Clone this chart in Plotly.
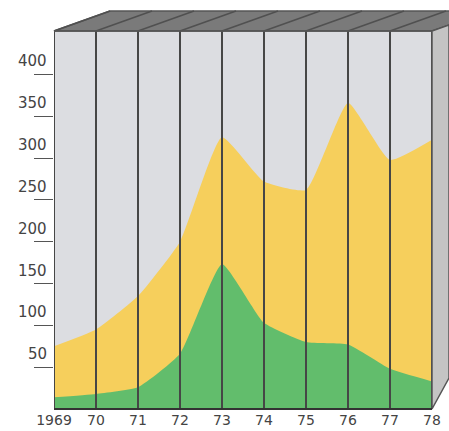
import plotly.graph_objects as go

# Series values per year
years = [1969, 1970, 1971, 1972, 1973, 1974, 1975, 1976, 1977, 1978]
year_labels = ["1969", "70", "71", "72", "73", "74", "75", "76", "77", "78"]
total = [75, 95, 135, 200, 325, 272, 262, 366, 298, 322]
green = [14, 18, 26, 66, 173, 103, 80, 77, 48, 33]
y_ticks = [50, 100, 150, 200, 250, 300, 350, 400]

W, H = 449, 431
ML, MR, MT, MB = 54, 17, 31, 22
Y_MAX = 452
PW, PH = W - ML - MR, H - MT - MB

BG = "#dcdde1"
YELLOW = "#f6cf5c"
GREEN = "#62bd6c"
LINE = "#464646"
FONT = dict(family="DejaVu Sans", size=15, color="#444444")
XFONT = dict(family="DejaVu Sans", size=14, color="#444444")


def px(x):
    return (x - ML) / PW


def py(y):
    return (H - MB - y) / PH


fig = go.Figure()

fig.add_trace(go.Scatter(
    x=years, y=total, mode="lines", line=dict(width=0, shape="spline", smoothing=0.45),
    fill="tozeroy", fillcolor=YELLOW, hoverinfo="skip", showlegend=False))
fig.add_trace(go.Scatter(
    x=years, y=green, mode="lines", line=dict(width=0, shape="spline", smoothing=0.45),
    fill="tozeroy", fillcolor=GREEN, hoverinfo="skip", showlegend=False))

# vertical separators at each year, drawn over the areas
vx, vy = [], []
for yr in years:
    vx += [yr, yr, None]
    vy += [0, Y_MAX, None]
fig.add_trace(go.Scatter(x=vx, y=vy, mode="lines", line=dict(color=LINE, width=2),
                         cliponaxis=False, hoverinfo="skip", showlegend=False))

shapes = []
# top slab of the box
dx, dy = 56, 20
top = H - MB - PH
shapes.append(dict(type="path", xref="paper", yref="paper", layer="above",
                   path=f"M {px(ML)} {py(top)} L {px(ML+dx)} {py(top-dy)} L {px(W+dx)} {py(top-dy)} "
                        f"L {px(W)} {py(top)} Z",
                   fillcolor="#7a7a7a", line=dict(color="#555555", width=1.5)))
for yr in years:
    x0 = ML + (yr - years[0]) / (years[-1] - years[0]) * PW
    shapes.append(dict(type="line", xref="paper", yref="paper", layer="above",
                       x0=px(x0), y0=py(top), x1=px(x0 + dx), y1=py(top - dy),
                       line=dict(color="#505050", width=1.5)))
# right side face
xr = ML + PW
shapes.append(dict(type="path", xref="paper", yref="paper", layer="above",
                   path=f"M {px(xr)} {py(top)} L {px(W)} {py(top - 6)} L {px(W)} {py(378)} "
                        f"L {px(xr)} {py(H-MB)} Z",
                   fillcolor="#c4c4c4", line=dict(color="#555555", width=1.5)))
# front top edge and bottom edge
shapes.append(dict(type="line", xref="paper", yref="paper", layer="above",
                   x0=0, y0=1, x1=1, y1=1, line=dict(color="#555555", width=1.5)))
shapes.append(dict(type="line", xref="paper", yref="paper", layer="above",
                   x0=0, y0=0, x1=1, y1=0, line=dict(color="#333333", width=2)))

# y tick labels sit just above their tick marks
annotations = []
for v in y_ticks:
    annotations.append(dict(x=0, xref="paper", y=v, yref="y", text=str(v), showarrow=False,
                            xanchor="right", yanchor="middle", xshift=-5, yshift=13,
                            font=FONT))

fig.update_layout(
    width=W, height=H,
    margin=dict(l=ML, r=MR, t=MT, b=MB, autoexpand=False),
    paper_bgcolor="white", plot_bgcolor=BG,
    shapes=shapes, annotations=annotations,
    xaxis=dict(range=[years[0], years[-1]], tickvals=years, ticktext=year_labels,
               showgrid=False, zeroline=False, ticks="", ticklabelstandoff=1,
               automargin=False, tickfont=XFONT),
    yaxis=dict(range=[0, Y_MAX], tickvals=y_ticks, showticklabels=False, showgrid=False,
               zeroline=False, ticks="outside", ticklen=19, tickwidth=1.2, tickcolor="#555555",
               automargin=False),
)

fig.write_html("out.html")
